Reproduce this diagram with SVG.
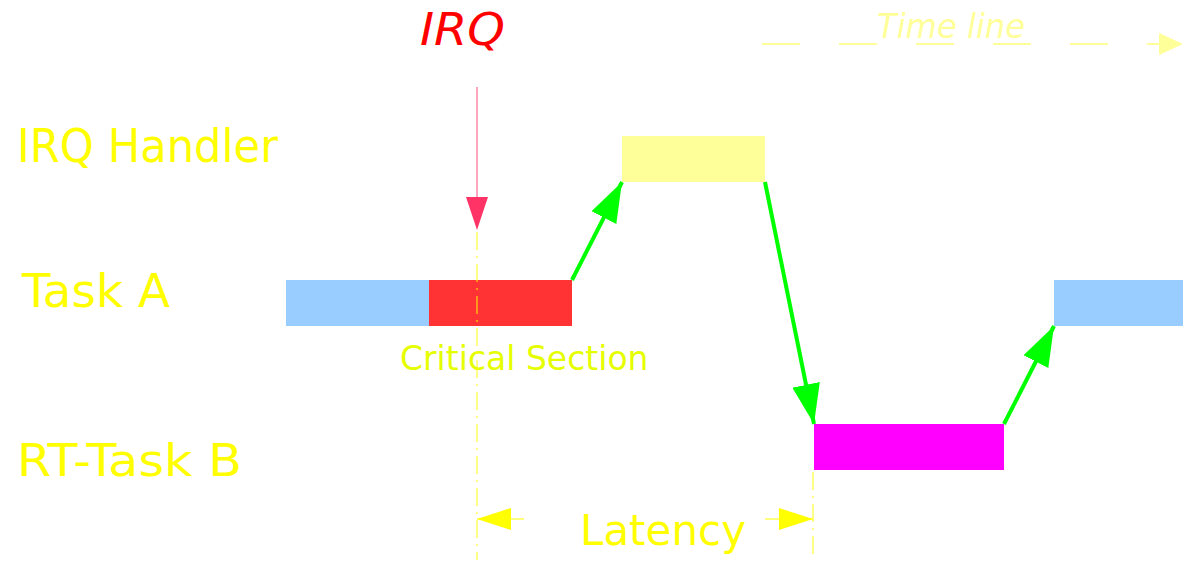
<svg xmlns="http://www.w3.org/2000/svg" width="1183" height="564" viewBox="0 0 1183 564">
  <style>
    .lbl { font-family: "DejaVu Sans", Verdana, sans-serif; fill: #ffff00; }
    .bar { stroke: none; }
    .flow { stroke: #00ff00; stroke-width: 4; fill: none; marker-end: url(#greenHead); }
    .guide { stroke: #ffff00; stroke-width: 1.2; stroke-dasharray: 18 6 2 6; fill: none; opacity: 0.8; }
    .dim { stroke: #ffff00; stroke-width: 1.2; fill: none; }
  </style>
  <defs>
    <marker id="greenHead" viewBox="0 0 40 28" refX="40" refY="14" markerWidth="40" markerHeight="28" orient="auto" markerUnits="userSpaceOnUse">
      <path d="M0,0 L40,14 L0,28 z" fill="#00ff00"/>
    </marker>
  </defs>

  <rect width="1183" height="564" fill="#ffffff"/>

  <!-- time axis -->
  <g id="timeline">
    <line x1="762" y1="44" x2="1160" y2="44" stroke="#ffff99" stroke-width="2" stroke-dasharray="38 39"/>
    <path d="M1159,33 L1183,44 L1159,55 z" fill="#ffff99"/>
    <text x="877" y="38" font-family="'DejaVu Sans', Verdana, sans-serif" font-style="italic" font-size="33" fill="#ffff99" textLength="148" lengthAdjust="spacingAndGlyphs">Time line</text>
  </g>

  <!-- row labels -->
  <g id="row-labels">
    <text class="lbl" x="17" y="162" font-size="46" textLength="261" lengthAdjust="spacingAndGlyphs">IRQ Handler</text>
    <text class="lbl" x="22" y="307" font-size="46" textLength="148" lengthAdjust="spacingAndGlyphs">Task A</text>
    <text class="lbl" x="17" y="476" font-size="45" textLength="225" lengthAdjust="spacingAndGlyphs">RT-Task B</text>
  </g>

  <!-- interrupt request -->
  <g id="irq">
    <text x="420" y="45" font-family="'DejaVu Sans', Verdana, sans-serif" font-style="italic" font-size="45" fill="#ff0000" textLength="85" lengthAdjust="spacingAndGlyphs">IRQ</text>
    <line x1="477" y1="87" x2="477" y2="200" stroke="#ff88aa" stroke-width="1.5"/>
    <path d="M466,197 L488,197 L477,230 z" fill="#ff3366"/>
  </g>

  <!-- execution bars -->
  <g id="task-a-1"><rect class="bar" x="286" y="280" width="143" height="46" fill="#99ccff"/></g>
  <g id="critical-section">
    <rect class="bar" x="429" y="280" width="143" height="46" fill="#ff3333"/>
    <text x="400" y="370" font-family="'DejaVu Sans', Verdana, sans-serif" font-size="33" fill="#e6ff00">Critical Section</text>
  </g>
  <g id="irq-handler"><rect class="bar" x="622" y="136" width="143" height="46" fill="#ffff99"/></g>
  <g id="rt-task-b"><rect class="bar" x="814" y="424" width="190" height="46" fill="#ff00ff"/></g>
  <g id="task-a-2"><rect class="bar" x="1054" y="280" width="129" height="46" fill="#99ccff"/></g>

  <!-- latency measurement -->
  <g id="latency">
    <line class="guide" x1="477" y1="232" x2="477" y2="560"/>
    <line class="guide" x1="813" y1="472" x2="813" y2="556"/>
    <line class="dim" x1="477" y1="519" x2="524" y2="519"/>
    <path d="M477,519 L511,508 L511,530 z" fill="#ffff00"/>
    <line class="dim" x1="765" y1="519" x2="813" y2="519"/>
    <path d="M813,519 L779,508 L779,530 z" fill="#ffff00"/>
    <text class="lbl" x="663" y="545" font-size="42" text-anchor="middle">Latency</text>
  </g>

  <!-- control flow -->
  <g id="connectors">
    <line class="flow" x1="572" y1="280" x2="622" y2="182"/>
    <line class="flow" x1="765" y1="182" x2="814" y2="424"/>
    <line class="flow" x1="1004" y1="424" x2="1054" y2="326"/>
  </g>
</svg>
